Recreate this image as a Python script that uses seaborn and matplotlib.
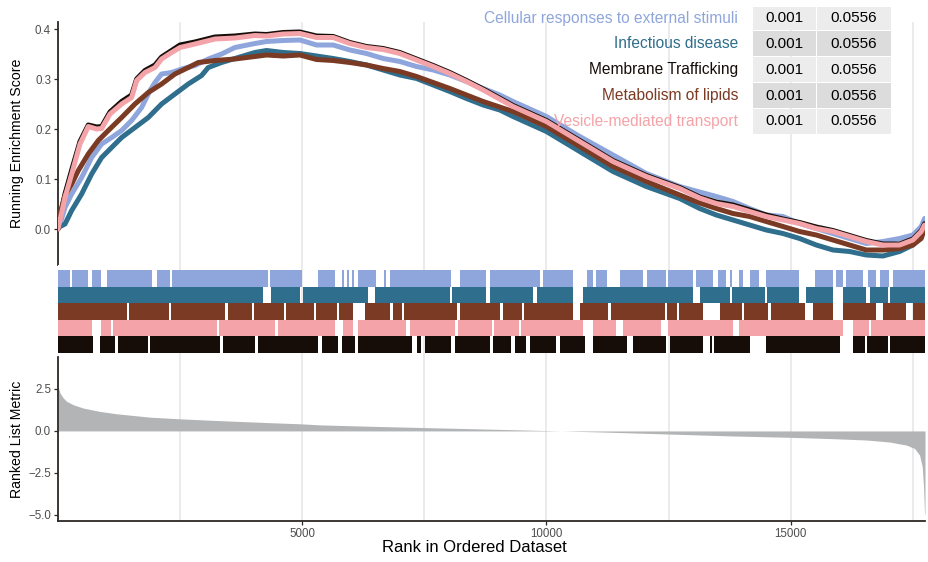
import matplotlib
matplotlib.use("Agg")
import matplotlib.pyplot as plt
import seaborn as sns
import numpy as np
import pandas as pd
from matplotlib.patches import Rectangle

sns.set_theme(style="white")
plt.rcParams['font.family'] = ['Liberation Sans', 'DejaVu Sans']

# ---------------- data ----------------
N_GENES = 17750
pathways = ["Cellular responses to external stimuli", "Infectious disease",
            "Membrane Trafficking", "Metabolism of lipids", "Vesicle-mediated transport"]
colors = ["#8FA6DD", "#2F6E8C", "#170D08", "#7B3A23", "#F4A3A8"]
pvalues = ["0.001", "0.001", "0.001", "0.001", "0.001"]
padjust = ["0.0556", "0.0556", "0.0556", "0.0556", "0.0556"]

# running enrichment score (rank, score)
blue_rank = [0, 41, 143, 280, 484, 689, 894, 1098, 1303, 1507, 1712, 1883, 1985, 2121, 2326, 2531, 2803, 3076,
             3349, 3622, 4031, 4270, 4611, 4952, 5293, 5634, 5975, 6316, 6657, 6998, 7340, 7681, 8022, 8363, 8704,
             9045, 9317, 10000, 10681, 11363, 12045, 12728, 13137, 13478, 13819, 14160, 14501, 14842, 15183, 15524,
             15865, 16206, 16548, 16889, 17230, 17502, 17673, 17741]
blue_es = [0.0, 0.01, 0.043, 0.07, 0.103, 0.143, 0.17, 0.183, 0.197, 0.217, 0.243, 0.277, 0.293, 0.31, 0.313, 0.32,
           0.327, 0.34, 0.35, 0.363, 0.371, 0.375, 0.377, 0.378, 0.368, 0.368, 0.358, 0.351, 0.341, 0.335, 0.325,
           0.318, 0.308, 0.295, 0.281, 0.268, 0.255, 0.225, 0.185, 0.148, 0.111, 0.085, 0.074, 0.065, 0.055, 0.041,
           0.028, 0.025, 0.011, 0.001, -0.009, -0.019, -0.029, -0.025, -0.019, -0.012, 0.005, 0.021]

teal_rank = [0, 7, 143, 280, 484, 689, 894, 1098, 1303, 1576, 1848, 2121, 2394, 2667, 2940, 3076, 3349, 3690, 4031,
             4270, 4611, 4952, 5293, 5634, 5975, 6316, 6657, 6998, 7340, 7681, 8022, 8363, 8704, 9045, 9317, 10000,
             10681, 11363, 12045, 12728, 13137, 13478, 13819, 14160, 14501, 14842, 15183, 15524, 15865, 16206,
             16548, 16889, 17230, 17502, 17673, 17741]
teal_es = [0.0, 0.003, 0.01, 0.037, 0.07, 0.11, 0.143, 0.163, 0.183, 0.203, 0.223, 0.25, 0.27, 0.29, 0.307, 0.323,
           0.333, 0.343, 0.353, 0.357, 0.353, 0.351, 0.346, 0.341, 0.335, 0.328, 0.318, 0.308, 0.301, 0.288, 0.275,
           0.261, 0.248, 0.238, 0.225, 0.195, 0.155, 0.115, 0.085, 0.061, 0.041, 0.028, 0.018, 0.008, -0.002, -0.009,
           -0.019, -0.032, -0.042, -0.045, -0.052, -0.054, -0.045, -0.032, -0.012, 0.011]

brown_rank = [0, 41, 143, 280, 416, 620, 825, 1030, 1303, 1576, 1848, 2121, 2394, 2667, 2872, 3213, 3622, 4031,
              4270, 4611, 4952, 5293, 5634, 5975, 6316, 6657, 6998, 7340, 7681, 8022, 8363, 8704, 9317, 10000,
              10681, 11363, 12045, 12728, 13137, 13478, 13819, 14160, 14501, 14842, 15183, 15524, 15865, 16206,
              16548, 16889, 17230, 17502, 17673, 17741]
brown_es = [0.0, 0.03, 0.067, 0.09, 0.117, 0.15, 0.177, 0.197, 0.223, 0.25, 0.273, 0.29, 0.31, 0.323, 0.333, 0.337,
            0.34, 0.345, 0.348, 0.346, 0.348, 0.339, 0.337, 0.333, 0.328, 0.321, 0.315, 0.305, 0.293, 0.281, 0.268,
            0.255, 0.235, 0.205, 0.165, 0.125, 0.095, 0.068, 0.052, 0.041, 0.031, 0.025, 0.015, 0.005, -0.005,
            -0.012, -0.022, -0.032, -0.042, -0.042, -0.039, -0.032, -0.019, 0.001]

pink_rank = [0, 41, 143, 280, 450, 620, 791, 894, 1064, 1303, 1507, 1610, 1780, 1985, 2121, 2326, 2497, 2803, 3213,
             3622, 4031, 4270, 4611, 4952, 5293, 5634, 5975, 6316, 6657, 6998, 7340, 7681, 8022, 8363, 8704, 9317,
             10000, 10681, 11363, 12045, 12728, 13137, 13478, 13819, 14160, 14501, 14842, 15183, 15524, 15865,
             16206, 16548, 16889, 17230, 17502, 17673, 17741]
pink_es = [0.0, 0.017, 0.063, 0.11, 0.17, 0.205, 0.2, 0.201, 0.23, 0.25, 0.263, 0.297, 0.313, 0.323, 0.34, 0.353,
           0.363, 0.37, 0.38, 0.382, 0.387, 0.386, 0.39, 0.391, 0.383, 0.383, 0.371, 0.363, 0.359, 0.351, 0.338,
           0.325, 0.311, 0.295, 0.278, 0.245, 0.215, 0.175, 0.135, 0.105, 0.081, 0.062, 0.051, 0.045, 0.035, 0.025,
           0.018, 0.011, 0.001, -0.005, -0.015, -0.025, -0.032, -0.032, -0.022, -0.005, 0.008]

black_rank = pink_rank
black_es = [0.0, 0.025, 0.07, 0.118, 0.175, 0.208, 0.204, 0.205, 0.234, 0.255, 0.268, 0.3, 0.317, 0.328, 0.344,
            0.357, 0.368, 0.374, 0.384, 0.386, 0.39, 0.389, 0.393, 0.394, 0.386, 0.385, 0.373, 0.365, 0.361, 0.353,
            0.34, 0.327, 0.313, 0.297, 0.28, 0.247, 0.217, 0.177, 0.137, 0.107, 0.083, 0.064, 0.054, 0.048, 0.038,
            0.028, 0.02, 0.013, 0.004, -0.003, -0.013, -0.023, -0.03, -0.03, -0.02, -0.003, 0.01]

# gene-set hits: white gaps (rank intervals without hits) per set
blue_gaps = [(240, 280), (620, 690), (890, 1000), (1920, 2020), (2290, 2340), (4300, 4350), (4990, 5330),
             (5670, 5810), (5850, 5920), (5960, 6020), (6060, 6150), (6520, 6680), (6720, 6790), (8050, 8230),
             (8770, 8840), (9860, 9930), (10550, 10820), (10950, 11020), (11230, 11500), (11980, 12050),
             (12450, 12490), (13000, 13070), (13410, 13510), (13680, 13760), (13800, 13950), (14020, 14160),
             (14360, 14500), (15180, 15490), (15860, 15930), (16070, 16140), (16480, 16580), (16750, 16820),
             (17020, 17090)]
teal_gaps = [(4200, 4370), (4950, 5020), (6350, 6490), (8020, 8060), (8770, 8840), (9730, 9800), (10550, 10750),
             (13000, 13140), (13760, 13800), (14480, 14520), (15180, 15320), (15860, 16070), (16550, 16620),
             (17000, 17040)]
brown_gaps = [(1420, 1460), (2270, 2310), (3420, 3480), (3980, 4020), (4620, 4660), (5240, 5280), (5720, 5760),
              (6040, 6280), (6790, 6860), (7050, 7090), (8160, 8230), (9040, 9110), (9500, 9540), (10550, 10680),
              (11260, 11330), (12430, 12470), (12670, 12710), (13200, 13550), (14000, 14040), (14530, 14600),
              (15290, 15460), (15860, 16070), (16750, 16890), (17370, 17500)]
pink_gaps = [(690, 890), (1080, 1120), (3260, 3300), (4440, 4510), (5670, 5840), (6040, 6150), (7130, 7200),
             (8120, 8190), (8890, 8930), (9430, 9470), (10750, 10950), (11430, 11570), (12350, 12490),
             (13820, 13950), (16070, 16270), (16600, 16640)]
black_gaps = [(720, 860), (1160, 1230), (1840, 1880), (3310, 3380), (4030, 4100), (5330, 5400), (5740, 5810),
              (6080, 6150), (7240, 7340), (7440, 7510), (8050, 8120), (8840, 8910), (9280, 9350), (9590, 9660),
              (10200, 10270), (10780, 10950), (11640, 11770), (12450, 12520), (13200, 13340), (13390, 13430),
              (14160, 14500), (16000, 16270), (16530, 16570), (17000, 17040)]

# ranked list metric (rank, value)
metric_rank = [0, 41, 109, 177, 314, 518, 859, 1200, 1541, 1882, 2496, 3246, 4269, 4992, 5360, 6500, 7500, 8500,
               9500, 10300, 11091, 12455, 13819, 15000, 15866, 16548, 17025, 17366, 17537, 17639, 17694, 17721,
               17741, 17750]
metric_val = [2.66, 2.26, 1.96, 1.76, 1.56, 1.36, 1.16, 1.02, 0.92, 0.82, 0.72, 0.62, 0.5, 0.42, 0.36, 0.27, 0.2,
              0.13, 0.06, 0.0, -0.06, -0.18, -0.3, -0.38, -0.46, -0.54, -0.66, -0.84, -1.04, -1.44, -2.14, -3.34,
              -4.94, -4.94]

# ---------------- figure ----------------
W, H = 929, 562
fig = plt.figure(figsize=(W / 100, H / 100), dpi=100)

def box(x0, y0, x1, y1):
    return [x0 / W, 1 - y1 / H, (x1 - x0) / W, (y1 - y0) / H]

ax1 = fig.add_axes(box(58, 22, 925, 265))
ax2 = fig.add_axes(box(58, 265, 925, 357))
ax3 = fig.add_axes(box(58, 357, 925, 521))

spine_col = "#2E2824"
grid_col = "#E6E6EA"
tick_col = "#4D4D4D"
major = [5000, 10000, 15000]
minor = [2500, 7500, 12500, 17500]

for ax in (ax1, ax2, ax3):
    ax.set_xlim(0, N_GENES)
    ax.set_xticks(major)
    ax.set_xticks(minor, minor=True)
    ax.grid(False)
    for v in major + minor:
        ax.axvline(v, color=grid_col, lw=1.1, zorder=0)
    for s in ax.spines.values():
        s.set_visible(False)
    ax.set_facecolor("white")

# --- running ES
es_tables = []
for name, r, e in zip(pathways,
                      [blue_rank, teal_rank, black_rank, brown_rank, pink_rank],
                      [blue_es, teal_es, black_es, brown_es, pink_es]):
    es_tables.append(pd.DataFrame({"rank": r, "es": e, "Description": name}))
es_df = pd.concat(es_tables, ignore_index=True)
sns.lineplot(data=es_df, x="rank", y="es", hue="Description", hue_order=pathways,
             palette=dict(zip(pathways, colors)), sort=False, estimator=None,
             linewidth=3.6, legend=False, ax=ax1, zorder=3)
for ln in ax1.get_lines():
    ln.set_solid_capstyle("round")
    ln.set_solid_joinstyle("round")
ax1.set_ylim(-0.072, 0.414)
ax1.set_yticks([0.0, 0.1, 0.2, 0.3, 0.4])
ax1.set_yticklabels(["0.0", "0.1", "0.2", "0.3", "0.4"])
ax1.spines["left"].set_visible(True)
ax1.spines["left"].set_color(spine_col)
ax1.spines["left"].set_linewidth(1.3)
ax1.tick_params(axis="y", which="major", length=3, width=0.9, color=spine_col, labelsize=8.3,
                labelcolor=tick_col, pad=2, left=True)
ax1.tick_params(axis="x", which="both", bottom=False, labelbottom=False)
ax1.set_xlabel("")
ax1.set_ylabel("Running Enrichment Score", fontsize=10.2, color="black")
ax1.yaxis.set_label_coords(-0.039, 0.5)

# --- hits
gaps_all = [blue_gaps, teal_gaps, brown_gaps, pink_gaps, black_gaps]
row_cols = [colors[0], colors[1], colors[3], colors[4], colors[2]]
for i, (gaps, c) in enumerate(zip(gaps_all, row_cols)):
    runs = []
    start = 0
    for g0, g1 in gaps:
        runs.append((start, g0 - start))
        start = g1
    runs.append((start, N_GENES - 10 - start))
    ax2.broken_barh(runs, (4 - i, 1), facecolors=c, edgecolor="none", zorder=2)
ax2.set_ylim(-0.24, 5.3)
ax2.set_yticks([])
ax2.tick_params(axis="x", which="both", bottom=False, labelbottom=False)

# --- ranked list metric
ax3.fill_between(metric_rank, 0, metric_val, color="#B3B4B6", lw=0, zorder=2)
ax3.set_ylim(-5.36, 4.40)
ax3.set_yticks([-5.0, -2.5, 0.0, 2.5])
ax3.set_yticklabels(["\u22125.0", "\u22122.5", "0.0", "2.5"])
ax3.spines["left"].set_visible(True)
ax3.spines["bottom"].set_visible(True)
for s in ("left", "bottom"):
    ax3.spines[s].set_color(spine_col)
    ax3.spines[s].set_linewidth(1.3)
ax3.tick_params(axis="both", which="major", length=3, width=0.9, color=spine_col, labelsize=8.3,
                labelcolor=tick_col, pad=2, left=True, bottom=True)
ax3.tick_params(axis="x", which="minor", bottom=False)
ax3.set_xticklabels(["5000", "10000", "15000"])
ax3.set_ylabel("Ranked List Metric", fontsize=10.2, color="black")
ax3.yaxis.set_label_coords(-0.039, 0.5)
ax3.set_xlabel("")
fig.text(474 / W, 1 - 548 / H, "Rank in Ordered Dataset", ha="center", va="center", fontsize=12,
         color="black")

# --- table
row_top = [7, 31, 57, 83, 109]
row_bot = [30, 56, 82, 108, 134]
c1 = (753, 816)
c2 = (817, 891)
bg = ["#ECECEC", "#DCDCDC"]
for i, name in enumerate(pathways):
    y0, y1 = row_top[i], row_bot[i]
    yc = (y0 + y1) / 2
    for (x0, x1), txt in ((c1, pvalues[i]), (c2, padjust[i])):
        fig.patches.append(Rectangle((x0 / W, 1 - y1 / H), (x1 - x0) / W, (y1 - y0) / H,
                                     transform=fig.transFigure, facecolor=bg[i % 2], edgecolor="none",
                                     zorder=5))
        fig.text((x0 + x1) / 2 / W, 1 - yc / H, txt, ha="center", va="center", fontsize=11,
                 color="black", zorder=6)
    fig.text(738 / W, 1 - yc / H, name, ha="right", va="center", fontsize=11.2, color=colors[i], zorder=6)

fig.savefig("out.png", dpi=100, facecolor="white")
